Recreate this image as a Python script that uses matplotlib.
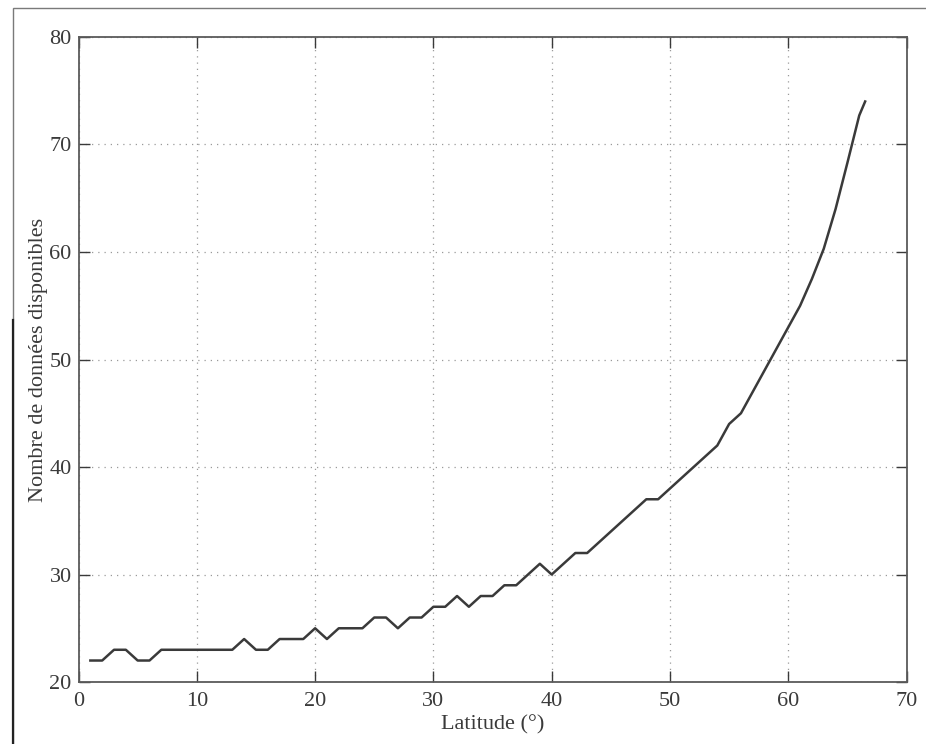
import matplotlib
matplotlib.use("Agg")
import matplotlib.pyplot as plt
from matplotlib.patches import Rectangle
from matplotlib.lines import Line2D

# Number of available data points as a function of latitude
latitude = [1, 2, 3, 4, 5, 6, 7, 8, 9, 10, 11, 12, 13, 14, 15, 16, 17, 18, 19, 20,
            21, 22, 23, 24, 25, 26, 27, 28, 29, 30, 31, 32, 33, 34, 35, 36, 37, 38,
            39, 40, 41, 42, 43, 44, 45, 46, 47, 48, 49, 50, 51, 52, 53, 54, 55, 56,
            57, 58, 59, 60, 61, 62, 63, 64, 65, 66, 66.5]
nb_donnees = [22, 22, 23, 23, 22, 22, 23, 23, 23, 23, 23, 23, 23, 24, 23, 23, 24, 24,
              24, 25, 24, 25, 25, 25, 26, 26, 25, 26, 26, 27, 27, 28, 27, 28, 28, 29,
              29, 30, 31, 30, 31, 32, 32, 33, 34, 35, 36, 37, 37, 38, 39, 40, 41, 42,
              44, 45, 47, 49, 51, 53, 55, 57.5, 60.3, 64, 68.3, 72.7, 74]

x_ticks = [0, 10, 20, 30, 40, 50, 60, 70]
y_ticks = [20, 30, 40, 50, 60, 70, 80]

plt.rcParams['font.family'] = ['Liberation Serif', 'DejaVu Serif']

fig = plt.figure(figsize=(9.26, 7.44), dpi=100)
ax = fig.add_axes([0.0848, 0.0833, 0.8942, 0.867])

ax.plot(latitude, nb_donnees, color='#3a3a3a', linewidth=1.8)

ax.set_xlim(0, 70)
ax.set_ylim(20, 80)
ax.set_xticks(x_ticks)
ax.set_yticks(y_ticks)
ax.tick_params(direction='in', length=8, width=1, top=True, right=True,
               labelsize=16, colors='#3a3a3a')
ax.tick_params(axis='x', pad=7)
ax.tick_params(axis='y', pad=5)
ax.grid(True, linestyle=(0, (1, 4)), color='#9a9a9a', linewidth=0.9)
for s in ax.spines.values():
    s.set_color('#5a5a5a')
    s.set_linewidth(1.3)

ax.set_xlabel('Latitude (°)', fontsize=16, color='#3a3a3a', labelpad=3)
ax.set_ylabel('Nombre de données disponibles', fontsize=16, color='#3a3a3a', labelpad=1)

# Page frame around the figure
fig.patches.append(Rectangle((13 / 926, -0.02), 1.0, 1 - 8 / 744 + 0.02,
                             transform=fig.transFigure, fill=False,
                             edgecolor='#7a7a7a', linewidth=1.0))
fig.lines.append(Line2D([13 / 926, 13 / 926], [0.0, 1 - 320 / 744],
                        transform=fig.transFigure, color='#222222', linewidth=1.6))

fig.savefig('out.png', dpi=100)
